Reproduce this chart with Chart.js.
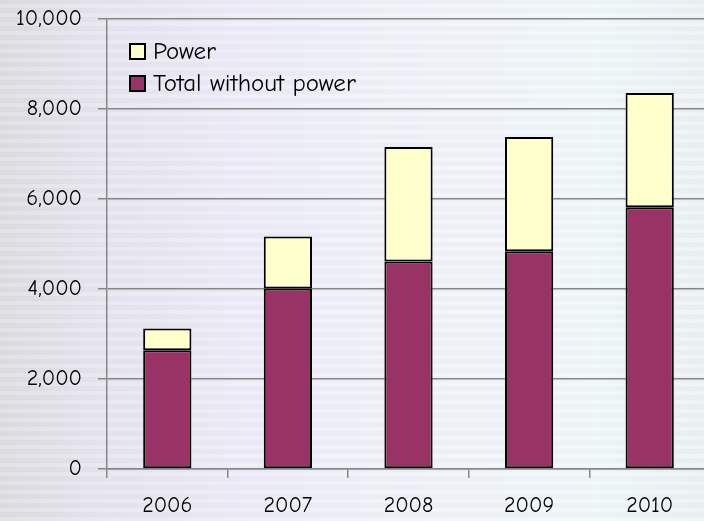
<!DOCTYPE html>
<html>
<head>
<meta charset="utf-8">
<script src="https://cdn.jsdelivr.net/npm/chart.js@4/dist/chart.umd.min.js"></script>
<style>
    html, body {
        margin: 0;
        padding: 0;
        overflow: hidden;
        width: 704px;
        height: 521px;
    }
    body {
        background:
            repeating-linear-gradient(0deg, rgba(255,255,255,0.18) 0px, rgba(255,255,255,0.18) 4px, rgba(210,210,220,0.10) 4px, rgba(210,210,220,0.10) 9px),
            linear-gradient(90deg, #dcdcdf 0%, #e4e2ec 12%, #ecebf7 35%, #eff2f9 60%, #eff8f8 85%, #ebf0f3 100%);
    }
    #wrap {
        position: absolute;
        left: 0;
        top: -10px;
    }
</style>
</head>
<body>
<div id="wrap">
    <canvas id="chart" width="710" height="531"></canvas>
</div>

<script>
// -----------------------------
// DATA
// -----------------------------
const years = ["2006", "2007", "2008", "2009", "2010"];
const totalWithoutPower = [2640, 4015, 4615, 4840, 5820];
const power = [485, 1155, 2545, 2540, 2540];
const yTicks = [0, 2000, 4000, 6000, 8000, 10000];

const FONT = "'Comic Sans MS', 'Comic Neue', 'DejaVu Sans', sans-serif";

// -----------------------------
// LEGEND INSIDE PLOT
// -----------------------------
const insideLegend = {
    id: "insideLegend",
    afterDraw(chart) {
        const ctx = chart.ctx;
        const items = [chart.data.datasets[1], chart.data.datasets[0]];
        ctx.save();
        ctx.font = "25px " + FONT;
        ctx.textBaseline = "middle";
        items.forEach((ds, i) => {
            const x = 130;
            const y = 54 + i * 32;
            ctx.fillStyle = ds.backgroundColor;
            ctx.fillRect(x, y, 15, 15);
            ctx.lineWidth = 2;
            ctx.strokeStyle = "#000";
            ctx.strokeRect(x, y, 15, 15);
            ctx.fillStyle = "#000";
            ctx.fillText(ds.label, x + 23, y + 8);
        });
        ctx.restore();
    }
};

// -----------------------------
// CHART
// -----------------------------
window.onload = function () {

    const ctx = document.getElementById("chart").getContext("2d");

    new Chart(ctx, {
        type: "bar",
        data: {
            labels: years,
            datasets: [
                {
                    label: "Total without power",
                    data: totalWithoutPower,
                    backgroundColor: "#993366",
                    borderColor: "#000",
                    borderWidth: 2,
                    borderSkipped: false
                },
                {
                    label: "Power",
                    data: power,
                    backgroundColor: "#FFFFCC",
                    borderColor: "#000",
                    borderWidth: 2,
                    borderSkipped: false
                }
            ]
        },
        options: {
            responsive: false,
            animation: false,
            devicePixelRatio: 1,
            layout: {
                padding: { top: 0, right: 0, left: 0, bottom: 0 }
            },
            datasets: {
                bar: {
                    barPercentage: 0.4,
                    categoryPercentage: 1
                }
            },
            plugins: {
                legend: { display: false },
                tooltip: { enabled: false }
            },
            scales: {
                x: {
                    stacked: true,
                    afterFit(scale) { scale.height = 52; },
                    grid: {
                        drawOnChartArea: false,
                        drawTicks: true,
                        tickLength: 9,
                        color: "#888",
                        lineWidth: 1.5,
                        offset: true
                    },
                    border: { color: "#888", width: 1.5 },
                    ticks: {
                        color: "#000",
                        font: { family: FONT, size: 22 },
                        padding: 15
                    }
                },
                y: {
                    stacked: true,
                    min: 0,
                    max: 10000,
                    afterFit(scale) { scale.width = 107; },
                    afterBuildTicks(scale) {
                        scale.ticks = yTicks.map(v => ({ value: v }));
                    },
                    grid: {
                        color: "#888",
                        lineWidth: 1.5,
                        tickLength: 9
                    },
                    border: { color: "#888", width: 1.5 },
                    ticks: {
                        color: "#000",
                        font: { family: FONT, size: 22 },
                        padding: 16,
                        callback: v => v.toString().replace(/\B(?=(\d{3})+(?!\d))/g, ",")
                    }
                }
            }
        },
        plugins: [insideLegend]
    });
};
</script>
</body>
</html>
